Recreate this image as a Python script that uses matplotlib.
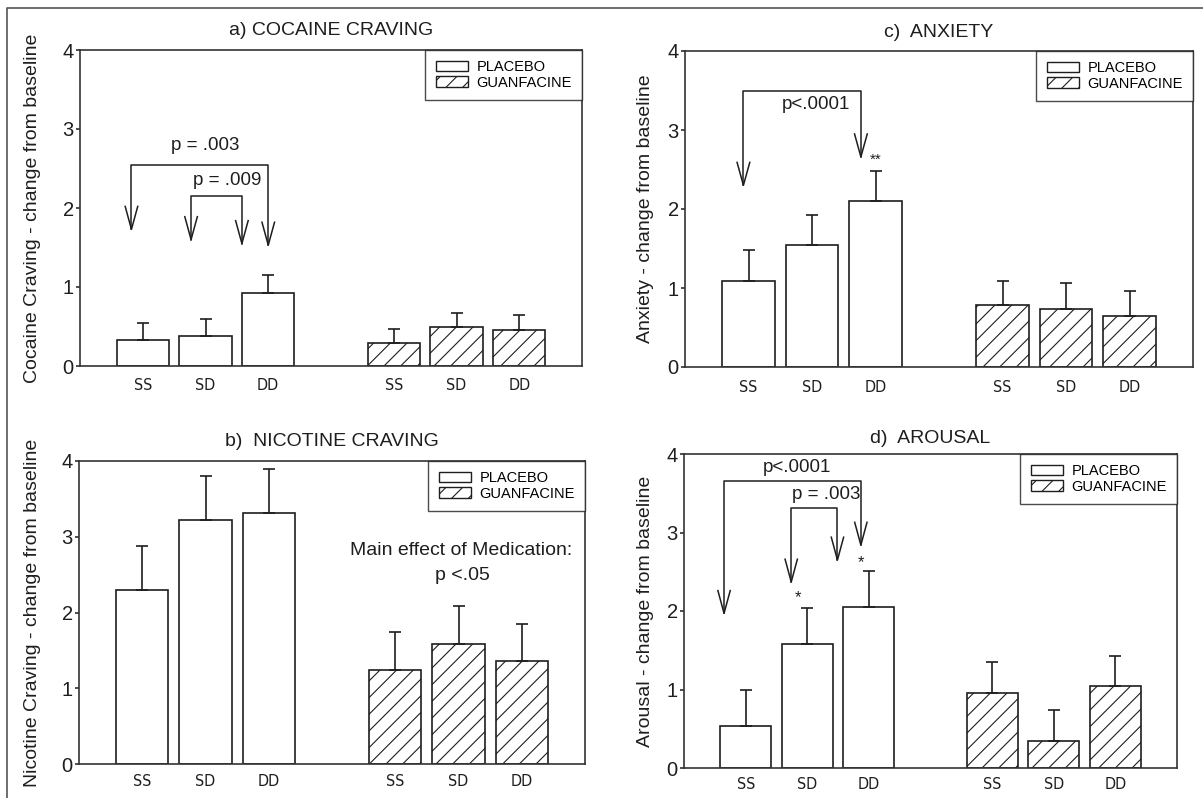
import matplotlib
matplotlib.use('Agg')
import matplotlib.pyplot as plt
from matplotlib import font_manager as fm
from matplotlib.patches import Patch
from matplotlib.lines import Line2D
import numpy as np

plt.rcParams['font.family'] = ['Liberation Sans', 'DejaVu Sans']
plt.rcParams['hatch.linewidth'] = 0.8
plt.rcParams['hatch.color'] = '#222222'

# conditions and groups
conditions = ['SS', 'SD', 'DD']
groups = ['PLACEBO', 'GUANFACINE']

# means and upper SEM per panel (placebo, guanfacine)
cocaine_placebo = [0.325, 0.38, 0.93]
cocaine_placebo_err = [0.225, 0.22, 0.22]
cocaine_guanf = [0.29, 0.49, 0.45]
cocaine_guanf_err = [0.18, 0.185, 0.19]

nicotine_placebo = [2.30, 3.22, 3.31]
nicotine_placebo_err = [0.58, 0.58, 0.59]
nicotine_guanf = [1.24, 1.59, 1.36]
nicotine_guanf_err = [0.50, 0.495, 0.49]

anxiety_placebo = [1.09, 1.55, 2.095]
anxiety_placebo_err = [0.385, 0.38, 0.38]
anxiety_guanf = [0.78, 0.74, 0.64]
anxiety_guanf_err = [0.31, 0.32, 0.317]

arousal_placebo = [0.54, 1.58, 2.05]
arousal_placebo_err = [0.46, 0.46, 0.46]
arousal_guanf = [0.955, 0.35, 1.04]
arousal_guanf_err = [0.395, 0.385, 0.39]

titles = ['a) COCAINE CRAVING', 'b)  NICOTINE CRAVING', 'c)  ANXIETY', 'd)  AROUSAL']
ylabels = ['Cocaine Craving - change from baseline',
           'Nicotine Craving - change from baseline',
           'Anxiety - change from baseline',
           'Arousal - change from baseline']

# significance brackets: (x_left, x_right, y_top, tip_left, tip_right)
brackets_a = [(0.82, 3.0, 2.54, 1.73, 1.53), (1.77, 2.58, 2.15, 1.60, 1.55)]
brackets_c = [(0.92, 2.77, 3.49, 2.30, 2.66)]
brackets_d = [(0.65, 2.87, 3.66, 1.97, 2.84), (1.74, 2.49, 3.31, 2.37, 2.65)]

# annotation texts: (text, x, y, size)
notes_a = [('p = .003', 2.0, 2.79, 13.5), ('p = .009', 2.35, 2.35, 13.5)]
notes_b = [('Main effect of Medication:', 6.04, 2.825, 14), ('p <.05', 6.06, 2.495, 14)]
notes_c = [('p<.0001', 2.07, 3.32, 13.5), ('**', 3.0, 2.62, 11)]
notes_d = [('p<.0001', 1.84, 3.83, 13.5), ('p = .003', 2.31, 3.49, 13.5),
           ('*', 1.85, 2.17, 12), ('*', 2.87, 2.61, 12)]

ink = '#1e1e1e'


def narrow_font():
    # the x tick labels are set in a condensed face
    for fam, st in [('Liberation Sans Narrow', 'normal'), ('DejaVu Sans', 'condensed')]:
        try:
            path = fm.findfont(fm.FontProperties(family=fam, stretch=st),
                               fallback_to_default=False)
        except ValueError:
            continue
        if 'Narrow' in path or 'Condensed' in path:
            return fm.FontProperties(family=fam, stretch=st, size=11.5)
    return fm.FontProperties(family='Liberation Sans', size=11)


tick_font = narrow_font()

fig = plt.figure(figsize=(12.03, 7.98), dpi=100)
W, H = 1203, 798


def px_axes(l, r, t, b):
    return fig.add_axes([l / W, 1 - b / H, (r - l) / W, (b - t) / H])


def draw_panel(ax, title, ylabel, pl, pl_err, gu, gu_err, brackets, notes, ylab_x,
               title_pad, xpad):
    x_p = np.arange(len(conditions)) + 1
    x_g = np.arange(len(conditions)) + 5
    ax.bar(x_p, pl, width=0.83, color='white', edgecolor=ink, linewidth=1.2, zorder=2)
    ax.bar(x_g, gu, width=0.83, color='white', edgecolor=ink, linewidth=1.2,
           hatch='//', zorder=2)
    ax.errorbar(x_p, pl, yerr=[np.zeros(3), pl_err], fmt='none', ecolor=ink,
                elinewidth=1.2, capsize=4.5, capthick=1.2, zorder=3)
    ax.errorbar(x_g, gu, yerr=[np.zeros(3), gu_err], fmt='none', ecolor=ink,
                elinewidth=1.2, capsize=4.5, capthick=1.2, zorder=3)

    for xl, xr, yt, tl, tr in brackets:
        ax.plot([xl, xl, xr, xr], [tl, yt, yt, tr], color=ink, lw=1.1, zorder=4)
        for xx, yy in ((xl, tl), (xr, tr)):
            ax.plot([xx - 0.1, xx, xx + 0.1], [yy + 0.29, yy, yy + 0.29],
                    color=ink, lw=1.1, zorder=4)
    for txt, xx, yy, sz in notes:
        ax.text(xx, yy, txt, ha='center', va='center', fontsize=sz, color=ink, zorder=5)

    ax.set_xlim(0, 8)
    ax.set_ylim(0, 4)
    ax.set_yticks([0, 1, 2, 3, 4])
    ax.set_xticks(list(x_p) + list(x_g))
    ax.set_xticklabels(conditions * 2, fontproperties=tick_font, color=ink)
    ax.tick_params(axis='x', length=0, pad=xpad)
    ax.tick_params(axis='y', length=3, width=1.1, pad=1.5, labelsize=14.5,
                   colors=ink, direction='out')
    for s in ax.spines.values():
        s.set_linewidth(1.2)
        s.set_color('#333333')
    ax.set_title(title, fontsize=14, pad=title_pad, color=ink)
    ax.set_ylabel(ylabel, fontsize=14, color=ink)
    ax.yaxis.set_label_coords(ylab_x, 0.5)

    handles = [Patch(facecolor='white', edgecolor=ink, linewidth=1.0),
               Patch(facecolor='white', edgecolor=ink, linewidth=1.0, hatch='//')]
    leg = ax.legend(handles, groups, loc='upper right', fontsize=10.5, frameon=True,
                    fancybox=False, borderaxespad=0.0, handlelength=2.2,
                    handleheight=0.7, labelspacing=0.1, handletextpad=0.6,
                    borderpad=0.7, edgecolor=ink)
    leg.get_frame().set_linewidth(1.0)
    leg.set_zorder(6)


ax_a = px_axes(80, 582, 50, 366)
ax_c = px_axes(685, 1193, 51, 367)
ax_b = px_axes(79, 585, 461, 764)
ax_d = px_axes(684, 1177, 454, 768)

draw_panel(ax_a, titles[0], ylabels[0], cocaine_placebo, cocaine_placebo_err,
           cocaine_guanf, cocaine_guanf_err, brackets_a, notes_a, -0.078, 11, 9)
draw_panel(ax_b, titles[1], ylabels[1], nicotine_placebo, nicotine_placebo_err,
           nicotine_guanf, nicotine_guanf_err, [], notes_b, -0.075, 11, 7.5)
draw_panel(ax_c, titles[2], ylabels[2], anxiety_placebo, anxiety_placebo_err,
           anxiety_guanf, anxiety_guanf_err, brackets_c, notes_c, -0.061, 10, 9)
draw_panel(ax_d, titles[3], ylabels[3], arousal_placebo, arousal_placebo_err,
           arousal_guanf, arousal_guanf_err, brackets_d, notes_d, -0.061, 8, 6.5)

# outer frame of the figure (top and left edges)
fig.add_artist(Line2D([7 / W, 7 / W, 1.0], [0.0, 1 - 8 / H, 1 - 8 / H],
                      transform=fig.transFigure, color='#555555', lw=1.2))

fig.savefig('out.png', dpi=100, facecolor='white')
